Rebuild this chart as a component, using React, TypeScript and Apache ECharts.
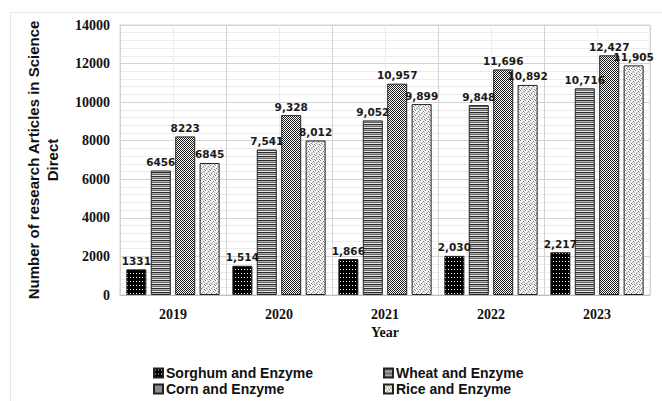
import React, { useEffect, useRef } from "react";
import * as echarts from "echarts";

const years = ["2019", "2020", "2021", "2022", "2023"];
const sorghum = [1331, 1514, 1866, 2030, 2217];
const wheat = [6456, 7541, 9052, 9848, 10716];
const corn = [8223, 9328, 10957, 11696, 12427];
const rice = [6845, 8012, 9899, 10892, 11905];
const seriesNames = [
  "Sorghum and Enzyme",
  "Wheat and Enzyme",
  "Corn and Enzyme",
  "Rice and Enzyme",
];

// Small tiled bitmaps used as hatch fills for the bars
function makePattern(w: number, h: number, draw: (ctx: CanvasRenderingContext2D) => void) {
  const c = document.createElement("canvas");
  c.width = w;
  c.height = h;
  const ctx = c.getContext("2d")!;
  draw(ctx);
  return { image: c, repeat: "repeat" as const };
}

export default function App() {
  const ref = useRef<HTMLDivElement>(null);

  useEffect(() => {
    if (!ref.current) return;
    const chart = echarts.init(ref.current, null, { renderer: "svg" });

    const dotsOnBlack = makePattern(3, 4, (ctx) => {
      ctx.fillStyle = "#000";
      ctx.fillRect(0, 0, 3, 4);
      ctx.fillStyle = "#fff";
      ctx.fillRect(1, 1, 1, 1);
    });
    const stripes = makePattern(4, 4, (ctx) => {
      const rows = ["#2b2b2b", "#b0b0b0", "#666", "#e6e6e6"];
      rows.forEach((c, i) => {
        ctx.fillStyle = c;
        ctx.fillRect(0, i, 4, 1);
      });
    });
    const checker = makePattern(2, 2, (ctx) => {
      ctx.fillStyle = "#fff";
      ctx.fillRect(0, 0, 2, 2);
      ctx.fillStyle = "#1a1a1a";
      ctx.fillRect(0, 0, 1, 1);
      ctx.fillRect(1, 1, 1, 1);
    });
    const speckle = makePattern(5, 5, (ctx) => {
      ctx.fillStyle = "#f4f4f4";
      ctx.fillRect(0, 0, 5, 5);
      ctx.fillStyle = "#7a7a7a";
      ctx.fillRect(0, 0, 1, 1);
      ctx.fillRect(3, 1, 1, 1);
      ctx.fillRect(1, 3, 1, 1);
      ctx.fillRect(4, 4, 1, 1);
      ctx.fillStyle = "#b4b4b4";
      ctx.fillRect(2, 2, 1, 1);
      ctx.fillRect(4, 2, 1, 1);
      ctx.fillRect(2, 4, 1, 1);
    });

    const fills = [dotsOnBlack, stripes, checker, speckle];
    const data = [sorghum, wheat, corn, rice];

    const labelFmt = (p: any) =>
      p.dataIndex === 0 ? String(p.value) : Number(p.value).toLocaleString("en-US");

    const legendPos = [
      { left: 153, top: 366 },
      { left: 383, top: 366 },
      { left: 153, top: 382 },
      { left: 383, top: 382 },
    ];

    chart.setOption({
      animation: false,
      backgroundColor: "#fff",
      grid: {
        left: 120,
        right: 12,
        top: 25,
        bottom: 106,
        show: true,
        borderColor: "#d4d4d4",
        borderWidth: 1,
      },
      legend: seriesNames.map((n, i) => ({
        data: [n],
        left: legendPos[i].left,
        top: legendPos[i].top,
        itemWidth: 9,
        itemHeight: 9,
        itemGap: 0,
        padding: 0,
        icon: "rect",
        selectedMode: false,
        textStyle: {
          fontFamily: "Liberation Sans, Arial, sans-serif",
          fontWeight: "bold",
          fontSize: 14,
          color: "#111",
          padding: [0, 0, 0, -2],
        },
      })),
      xAxis: [
        {
          type: "category",
          data: years,
          name: "Year",
          nameLocation: "middle",
          nameGap: 30,
          nameTextStyle: {
            fontFamily: "Liberation Serif, Times New Roman, serif",
            fontWeight: "bold",
            fontSize: 14,
            color: "#111",
          },
          axisLine: { lineStyle: { color: "#bdbdbd" } },
          axisTick: { show: false },
          axisLabel: {
            fontFamily: "Liberation Serif, Times New Roman, serif",
            fontWeight: "bold",
            fontSize: 14,
            color: "#111",
            margin: 12,
          },
          splitLine: { show: true, interval: 0, lineStyle: { color: "#d4d4d4" } },
          z: 3,
        },
        {
          type: "value",
          min: 0,
          max: 10,
          interval: 1,
          position: "top",
          axisLine: { show: false },
          axisTick: { show: false },
          axisLabel: { show: false },
          splitLine: { show: true, lineStyle: { color: "#ececec" } },
          z: 1,
        },
      ],
      yAxis: {
        type: "value",
        min: 0,
        max: 14000,
        interval: 2000,
        name: "Number of research Articles in Science\nDirect",
        nameLocation: "middle",
        nameGap: 58,
        nameRotate: 90,
        nameTextStyle: {
          fontFamily: "Liberation Sans, Arial, sans-serif",
          fontWeight: "bold",
          fontSize: 15,
          lineHeight: 19,
          color: "#111",
        },
        axisLine: { show: false },
        axisTick: { show: false },
        axisLabel: {
          formatter: (v: number) => String(v),
          fontFamily: "Liberation Serif, Times New Roman, serif",
          fontWeight: "bold",
          fontSize: 14,
          color: "#111",
          margin: 10,
        },
        splitLine: { show: true, lineStyle: { color: "#d4d4d4" } },
        minorTick: { show: false, splitNumber: 5 },
        minorSplitLine: { show: true, lineStyle: { color: "#ececec" } },
      },
      graphic: [
        {
          type: "line",
          shape: { x1: 10.5, y1: 12, x2: 10.5, y2: 401 },
          style: { stroke: "#e8e8e8", lineWidth: 1 },
          silent: true,
        },
        {
          type: "line",
          shape: { x1: 10, y1: 12.5, x2: 662, y2: 12.5 },
          style: { stroke: "#e8e8e8", lineWidth: 1 },
          silent: true,
        },
      ],
      series: seriesNames.map((n, i) => ({
        name: n,
        type: "bar",
        xAxisIndex: 0,
        data: data[i],
        barGap: "22%",
        barCategoryGap: "12%",
        itemStyle: {
          color: fills[i],
          borderColor: "#222",
          borderWidth: 1,
        },
        label: {
          show: true,
          position: "top",
          distance: 3,
          formatter: labelFmt,
          fontFamily: "DejaVu Sans, Verdana, sans-serif",
          fontWeight: "bold",
          fontSize: 10.5,
          color: "#1a1a1a",
        },
        z: 5,
      })),
    });

    return () => chart.dispose();
  }, []);

  return (
    <div
      ref={ref}
      style={{ position: "fixed", left: 0, top: 0, width: 662, height: 401 }}
    />
  );
}
